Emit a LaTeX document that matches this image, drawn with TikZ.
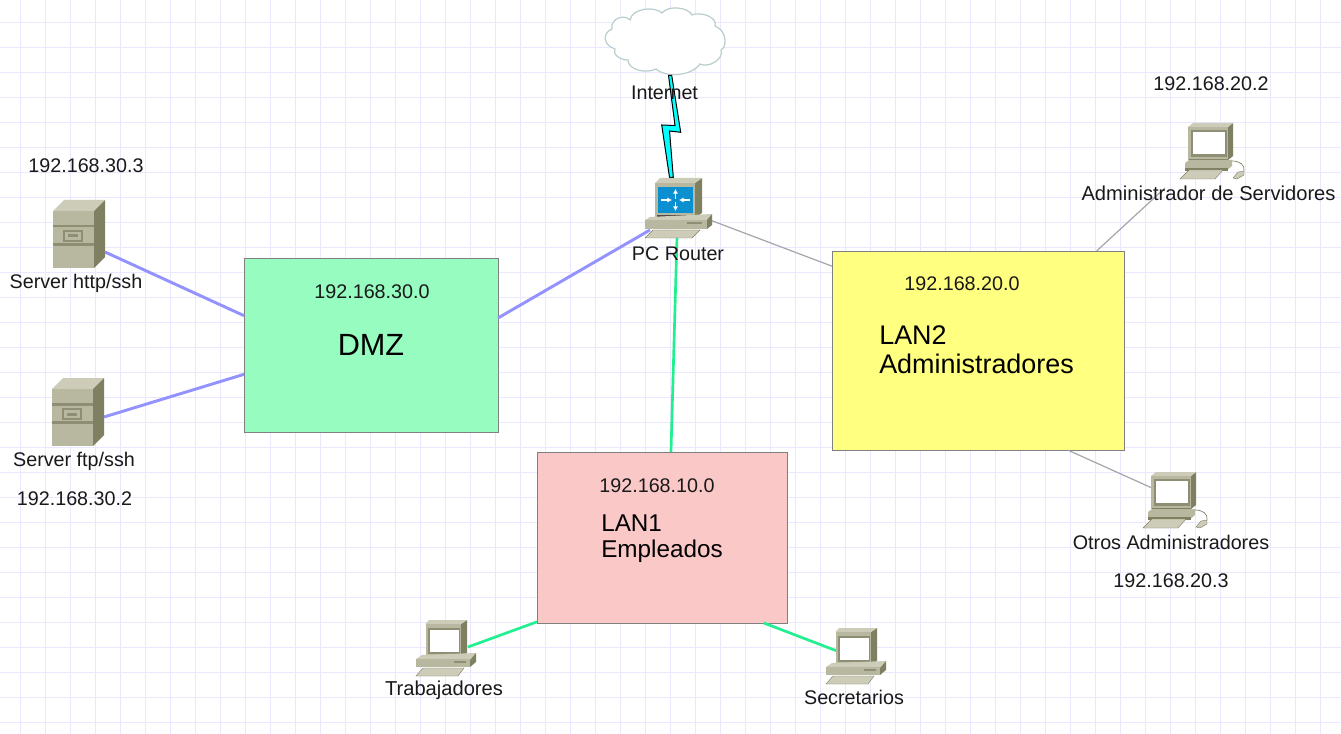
\documentclass[tikz,border=0pt]{standalone}
\usepackage{fontspec}
\setmainfont{Liberation Sans}
\usetikzlibrary{arrows.meta}
\definecolor{gridc}{HTML}{EBE7FF}
\definecolor{facec}{HTML}{B8B8A0}
\definecolor{topc}{HTML}{CCCCB8}
\definecolor{sidec}{HTML}{7F7F62}
\definecolor{darkc}{HTML}{8E8E74}
\definecolor{blueline}{HTML}{9393FF}
\definecolor{greenline}{HTML}{20F090}
\definecolor{grayline}{HTML}{A5A5AD}
\definecolor{dmzc}{HTML}{96FCC0}
\definecolor{lantwo}{HTML}{FFFF80}
\definecolor{lanone}{HTML}{FBC8C8}
\definecolor{routerblue}{HTML}{0A8FD0}
\definecolor{cloudc}{HTML}{B9CDCD}
\definecolor{boltc}{HTML}{00FFFF}
\tikzset{
  x=0.75pt,y=-0.75pt,
  netbox/.style={draw=black!50,line width=0.7pt,inner sep=0pt,outer sep=0pt},
  lbl/.style={font=\fontsize{14.8}{17}\selectfont,text=black!90,inner sep=0pt},
  widelbl/.style={font=\fontsize{15.1}{17}\selectfont,text=black!90,inner sep=0pt},
  lanlbl/.style={align=left,anchor=west,inner sep=0pt,text=black},
  bluelink/.style={blueline,line width=2.2pt},
  greenlink/.style={greenline,line width=2pt},
  graylink/.style={grayline,line width=0.9pt},
  routerarrow/.style={white,line width=1.2pt,-{Latex[length=3.5pt,width=4pt]}},
  pics/computer/.style={code={
    \fill[sidec] (48,5) -- (53,1) -- (53,34) -- (48,38) -- cycle;
    \fill[topc] (8,5) -- (13,1) -- (53,1) -- (48,5) -- cycle;
    \fill[facec] (8,5) rectangle (48,38);
    \fill[darkc] (11,8) rectangle (47,35);
    \fill[white] (13,10) rectangle (45,32);
    \fill[sidec] (9,37) rectangle (48,41);
    \fill[facec] (5,41) -- (9,38) -- (52,38) -- (52,44) -- (46,49) -- (5,49) -- cycle;
    \fill[sidec] (5,46) rectangle (48,49);
    \fill[topc,draw=sidec,line width=0.3pt] (0,57) -- (9,48) -- (43,48) -- (35,57) -- cycle;
    \draw[sidec,line width=0.5pt] (52,39) .. controls (60,39) and (65,43) .. (64,49);
    \fill[topc,draw=sidec,line width=0.3pt] (53,56) -- (58,50) -- (64,49) -- (64,53) -- (57,57) -- cycle;
  }},
  pics/deskpc/.style={code={
    \fill[sidec] (45,4) -- (51,0) -- (51,33) -- (45,37) -- cycle;
    \fill[topc] (9.5,4) -- (13,0) -- (51,0) -- (45,4) -- cycle;
    \fill[facec] (9.5,4) rectangle (45,37);
    \fill[darkc] (11.5,8) rectangle (44,34);
    \fill[white] (13.5,10) rectangle (42.5,32);
    \fill[black!65] (10,34.5) rectangle (45,37);
    \fill[topc] (0,39) -- (6,35) -- (60,33) -- (54,40) -- cycle;
    \fill[facec] (0,39) rectangle (54,47);
    \fill[sidec] (54,40) -- (60,33) -- (60,42) -- (54,47) -- cycle;
    \fill[darkc] (38,41) rectangle (50,43);
    \fill[topc,draw=sidec,line width=0.3pt] (0,56) -- (7,48) -- (48,48) -- (42,56) -- cycle;
  }},
  pics/server/.style={code={
    \fill[topc] (0,11) -- (11,0) -- (52,0) -- (41,11) -- cycle;
    \fill[sidec] (41,11) -- (52,0) -- (52,57) -- (41,68) -- cycle;
    \fill[facec] (0,11) rectangle (41,68);
    \fill[darkc] (0,25) rectangle (41,27.5);
    \fill[darkc] (0,43) rectangle (41,46);
    \fill[darkc] (10,30) rectangle (30,42);
    \fill[facec] (12,32) rectangle (28,40);
    \fill[darkc] (15,34.5) rectangle (25,37.5);
  }},
  pics/routerpc/.style={code={
    \fill[sidec] (50,5) -- (57,0) -- (57,35) -- (50,40) -- cycle;
    \fill[topc] (10,5) -- (15,0) -- (57,0) -- (50,5) -- cycle;
    \fill[facec] (10,5) rectangle (50,39);
    \fill[routerblue] (13,9) rectangle (48,35);
    \fill[black!70] (12,37) rectangle (50,39);
    \draw[routerarrow] (16,22) -- (27,22);
    \draw[routerarrow] (45,22) -- (34,22);
    \draw[routerarrow] (30.5,21) -- (30.5,11);
    \draw[routerarrow] (30.5,24) -- (30.5,33);
    \fill[topc] (0,42) -- (5,39) -- (67,36) -- (62,42) -- cycle;
    \fill[facec] (0,42) rectangle (62,51);
    \fill[sidec] (62,42) -- (67,36) -- (67,47) -- (62,51) -- cycle;
    \fill[darkc] (42,44) rectangle (57,46);
    \fill[topc,draw=sidec,line width=0.3pt] (0,60) -- (8,52) -- (55,52) -- (47,60) -- cycle;
  }},
}
\begin{document}
\begin{tikzpicture}
\useasboundingbox (0,0) rectangle (1341,734);
\fill[white] (0,0) rectangle (1341,734);
% background grid
\foreach \gx in {0,...,53} {\draw[gridc,line width=1.1pt] ({20.5+25*\gx},0) -- ({20.5+25*\gx},734);}
\foreach \gy in {0,...,28} {\draw[gridc,line width=1.1pt] (0,{22.5+25*\gy}) -- (1341,{22.5+25*\gy});}

% boxes
\node[netbox,fill=dmzc,minimum width=190.5pt,minimum height=130.5pt] (dmz) at (371,345) {};
\node[netbox,fill=lantwo,minimum width=219pt,minimum height=149.25pt] (lan2) at (978,350.5) {};
\node[netbox,fill=lanone,minimum width=187.5pt,minimum height=128.25pt] (lan1) at (662,537.5) {};

% connector ends at the icons
\coordinate (srvA) at (105,252);
\coordinate (srvB) at (104,417);
\coordinate (rtrW) at (650,230);
\coordinate (rtrS) at (677,236);
\coordinate (rtrE) at (710,220);
\coordinate (adm) at (1165,188);
\coordinate (otros) at (1152,488);
\coordinate (trab) at (468,647);
\coordinate (secr) at (837,651);

% connectors
\draw[bluelink] (srvA) -- (dmz.167.14);
\draw[bluelink] (srvB) -- (dmz.193.7);
\draw[bluelink] (dmz.12) -- (rtrW);
\draw[greenlink] (rtrS) -- (lan1.84.65);
\draw[graylink] (rtrE) -- (lan2.150.83);
\draw[graylink] (adm) -- (lan2.40.6);
\draw[graylink] (lan2.312.4) -- (otros);
\draw[greenlink] (trab) -- (lan1.214.06);
\draw[greenlink] (lan1.320.6) -- (secr);

% cloud
\draw[cloudc,fill=white,line width=0.9pt]
  (612,29) .. controls (610,18) and (625,14) .. (630,20)
  .. controls (632,8) and (655,6) .. (662,13)
  .. controls (668,5) and (688,7) .. (692,15)
  .. controls (702,11) and (718,18) .. (715,26)
  .. controls (726,30) and (728,46) .. (721,50)
  .. controls (724,60) and (708,68) .. (700,64)
  .. controls (692,76) and (666,78) .. (656,69)
  .. controls (646,74) and (628,70) .. (628,60)
  .. controls (620,60) and (612,54) .. (615,49)
  .. controls (603,45) and (602,33) .. (612,29) -- cycle;

% lightning link
\draw[black,fill=boltc,line width=0.75pt,line join=miter]
  (668.5,75.3) -- (671.7,75.3) -- (680.7,132.3) -- (669.5,131) -- (673.3,177.3) -- (669.5,177.3) -- (661.7,125) -- (675,125.5) -- cycle;

% icons
\pic at (53,200) {server};
\pic at (52,378) {server};
\pic at (645,178) {routerpc};
\pic at (1180,122) {computer};
\pic at (1143,471) {computer};
\pic at (416,620) {deskpc};
\pic at (826,628) {deskpc};

% labels
\node[lbl] (t1) at (86,166) {192.168.30.3};
\node[lbl] (t2) at (76,283) {Server http/ssh};
\node[lbl] (t3) at (74,461) {Server ftp/ssh};
\node[lbl] (t4) at (74.5,499) {192.168.30.2};
\node[lbl] (t5) at (664.5,93) {Internet};
\node[lbl] (t6) at (678,254) {PC Router};
\node[lbl] (t7) at (1211,84) {192.168.20.2};
\node[widelbl] (t8) at (1208.5,193) {Administrador de Servidores};
\node[lbl] (t9) at (372,292) {192.168.30.0};
\node[font=\fontsize{23}{27}\selectfont,inner sep=0pt] (t10) at (371,345) {DMZ};
\node[lbl] (t11) at (962,284) {192.168.20.0};
\node[lanlbl,font=\fontsize{20.2}{21.75}\selectfont] (t12) at (879,349.5) {LAN2\\Administradores};
\node[lanlbl,font=\fontsize{18.2}{20}\selectfont] (t14) at (601,538.5) {LAN1\\Empleados};
\node[lbl] (t13) at (657,486) {192.168.10.0};
\node[lbl] (t15) at (1171,542) {Otros Administradores};
\node[lbl] (t16) at (1171,581) {192.168.20.3};
\node[widelbl] (t17) at (444,690) {Trabajadores};
\node[lbl] (t18) at (854,697) {Secretarios};
\end{tikzpicture}
\end{document}
